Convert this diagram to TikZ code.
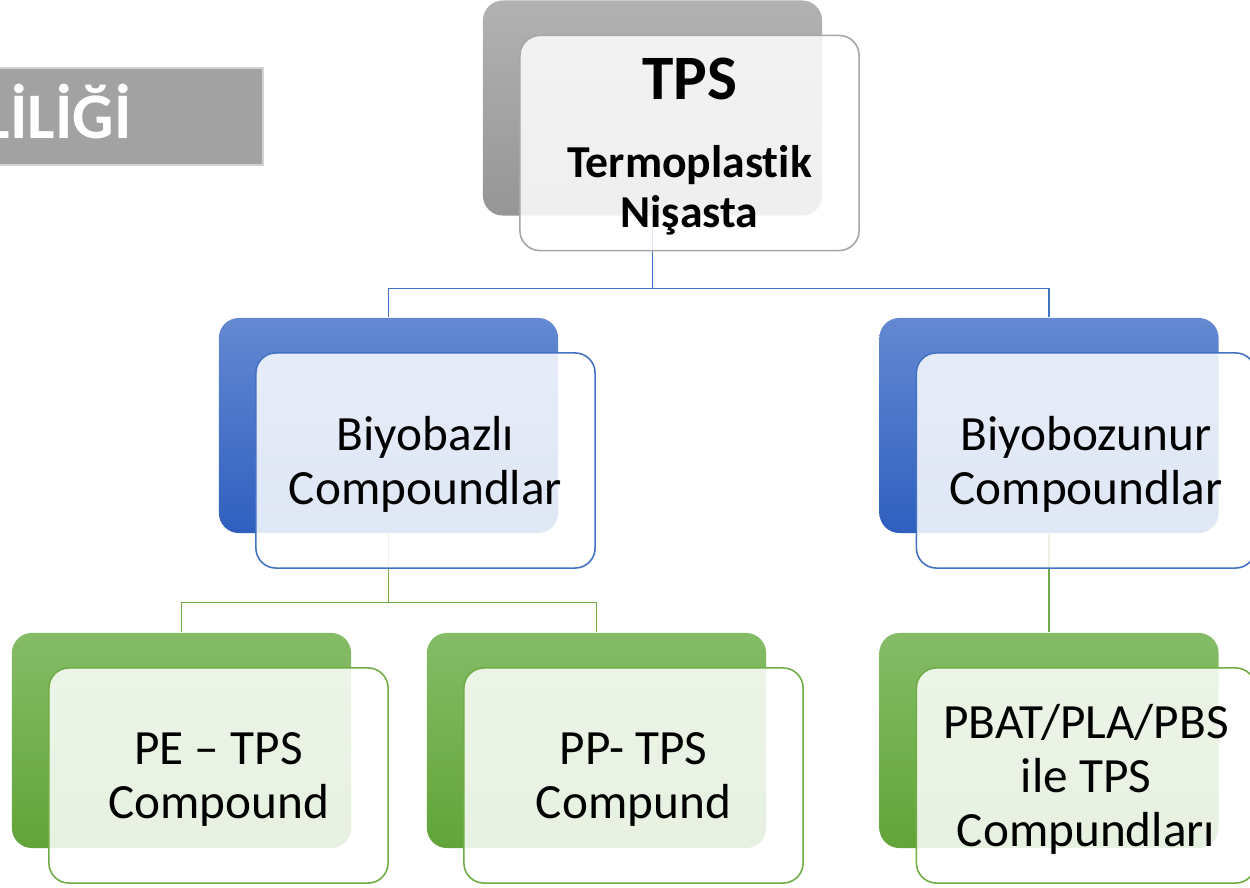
\documentclass[tikz,border=0pt]{standalone}
\usepackage{fontspec}
\setmainfont{Carlito}[Ligatures=NoCommon]
\usetikzlibrary{calc}
\definecolor{GrayTop}{HTML}{B2B2B2}
\definecolor{GrayBottom}{HTML}{969696}
\definecolor{GrayLine}{HTML}{A6A6A6}
\definecolor{BandGray}{HTML}{A2A2A2}
\definecolor{BlueTop}{HTML}{6489D2}
\definecolor{BlueBottom}{HTML}{2F5FBF}
\definecolor{BlueLine}{HTML}{4472C4}
\definecolor{GreenTop}{HTML}{85BC67}
\definecolor{GreenBottom}{HTML}{62A438}
\definecolor{GreenLine}{HTML}{70AD47}

\begin{document}
\begin{tikzpicture}[
		x=0.01cm, y=-0.01cm,
		BoxBase/.style={rectangle, rounded corners=0.2cm, minimum width=3.39cm, minimum height=2.15cm, inner sep=0pt, align=center},
		GrayBack/.style={BoxBase, top color=GrayTop, bottom color=GrayBottom},
		BlueBack/.style={BoxBase, top color=BlueTop, bottom color=BlueBottom},
		GreenBack/.style={BoxBase, top color=GreenTop, bottom color=GreenBottom},
		FrontBase/.style={BoxBase, fill=white, fill opacity=0.85, text opacity=1, line width=0.45pt, text depth=0pt, font=\fontsize{14}{15.3}\selectfont},
		GrayFront/.style={FrontBase, draw=GrayLine},
		BlueFront/.style={FrontBase, draw=BlueLine},
		GreenFront/.style={FrontBase, draw=GreenLine},
		BlueLink/.style={draw=BlueLine, line width=0.4pt},
		GreenLink/.style={draw=GreenLine, line width=0.4pt},
		Band/.style={rectangle, fill=BandGray, draw=gray!35, line width=0.4pt, minimum width=2.8cm, minimum height=0.97cm, inner sep=0pt},
		BandText/.style={text=white, font=\fontsize{18.5}{20}\selectfont\bfseries, inner sep=0pt}
		]

		\useasboundingbox (0,0) rectangle (1250,888);
		\clip (0,0) rectangle (1250,888);

		% title band on the left, cut by the page edge
		\node[Band] (band) at (123,116.5) {};
		\node[BandText, anchor=base east] (bandtext) at (132,139) {LİLİĞİ};

		% back boxes
		\node[GrayBack] (tpsBack) at (652.5,108) {};
		\node[BlueBack] (bioBack) at (388.5,425.5) {};
		\node[BlueBack] (degBack) at (1049,425.5) {};
		\node[GreenBack] (peBack) at (181.5,740.5) {};
		\node[GreenBack] (ppBack) at (596.5,740.5) {};
		\node[GreenBack] (pbatBack) at (1049,740.5) {};

		% connectors
		\draw[BlueLink] (tpsBack.south) -- ++(0,72) -| (bioBack.north);
		\draw[BlueLink] (tpsBack.south) -- ++(0,72) -| (degBack.north);
		\draw[GreenLink] (bioBack.south) -- ++(0,69) -| (peBack.north);
		\draw[GreenLink] (bioBack.south) -- ++(0,69) -| (ppBack.north);
		\draw[GreenLink] (degBack.south) -- (pbatBack.north);

		% front boxes
		\node[GrayFront, text depth=-1.5pt, font=\fontsize{13}{14.2}\selectfont\bfseries] (tps) at ([shift={(37,35)}]tpsBack)
			{\fontsize{18}{20}\selectfont TPS\\[8pt]Termoplastik\\Nişasta};
		\node[BlueFront] (bio) at ([shift={(37,35)}]bioBack) {Biyobazlı\\Compoundlar};
		\node[BlueFront] (deg) at ([shift={(37,35)}]degBack) {Biyobozunur\\Compoundlar};
		\node[GreenFront] (pe) at ([shift={(37,35)}]peBack) {PE – TPS\\Compound};
		\node[GreenFront] (pp) at ([shift={(37,35)}]ppBack) {PP- TPS\\Compund};
		\node[GreenFront] (pbat) at ([shift={(37,35)}]pbatBack) {PBAT/PLA/PBS\\ile TPS\\Compundları};

\end{tikzpicture}
\end{document}
